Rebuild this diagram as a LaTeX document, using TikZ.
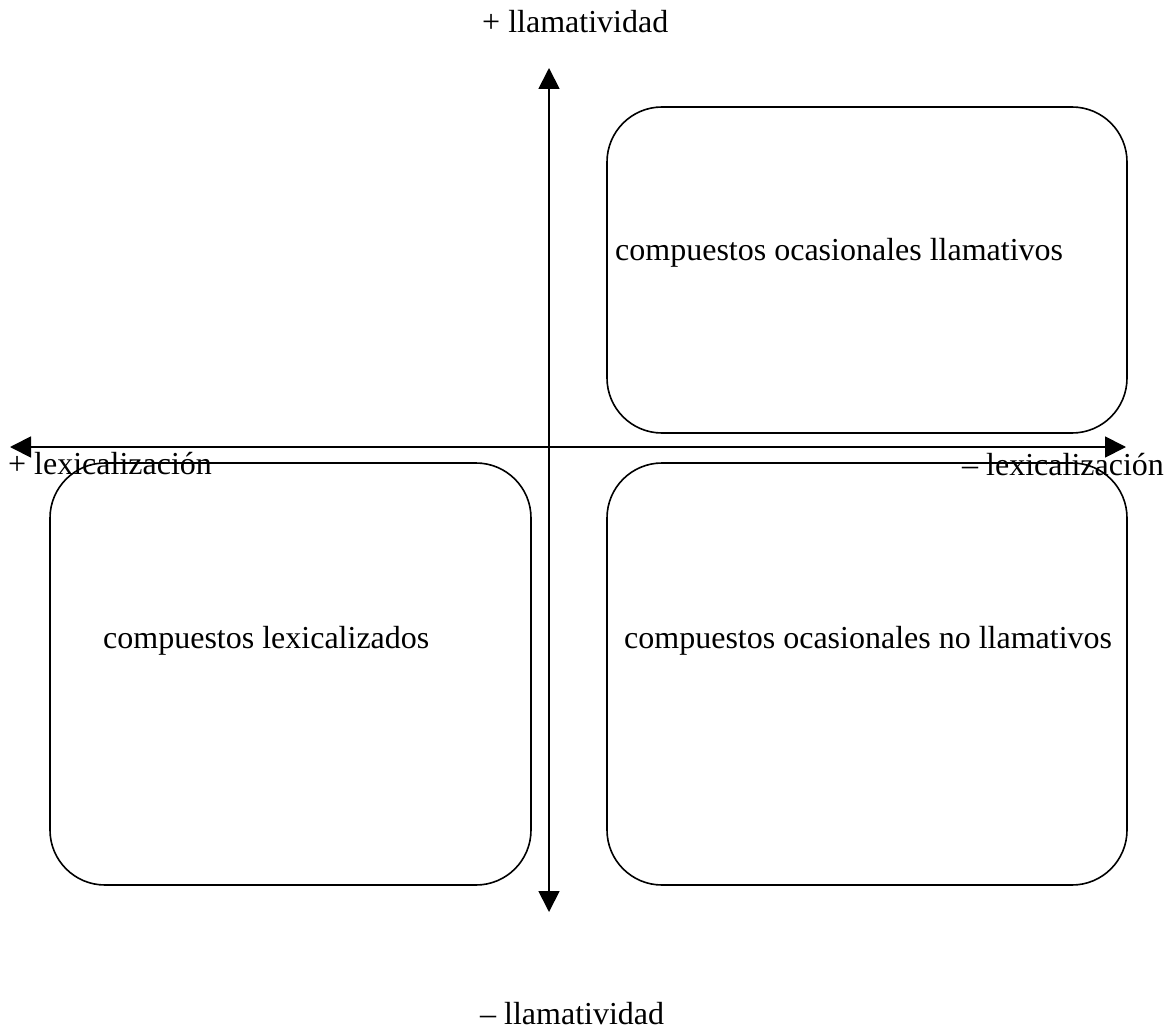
\documentclass[tikz,border=0pt]{standalone}
\usepackage{fontspec}
\setmainfont{Liberation Serif}
\usetikzlibrary{arrows.meta}
\begin{document}
\begin{tikzpicture}[x=1pt,y=-1pt,
  lbl/.style={inner sep=0pt, anchor=base west, font=\fontsize{32}{38}\selectfont},
  quad/.style={draw, line width=1.6pt, rounded corners=55pt, inner sep=0pt},
  axis/.style={line width=1.8pt, {Triangle[width=21pt,length=21pt]}-{Triangle[width=21pt,length=21pt]}}]
  \useasboundingbox (0,0) rectangle (1174,1032);
  % axis end points
  \coordinate (top) at (549,68);
  \coordinate (bottom) at (549,912);
  \coordinate (left) at (10,447);
  \coordinate (right) at (1126,447);
  % quadrant frames
  \node[quad, minimum width=520pt, minimum height=326pt] (tr) at (867,270) {};
  \node[quad, minimum width=481pt, minimum height=422pt] (bl) at (290.5,674) {};
  \node[quad, minimum width=520pt, minimum height=422pt] (br) at (867,674) {};
  % axes
  \draw[axis] (bottom) -- (top);
  \draw[axis] (left) -- (right);
  % axis labels
  \node[lbl] (ym) at (482,33) {+ llamatividad};
  \node[lbl] (yp) at (480,1024) {– llamatividad};
  \node[lbl] (xl) at (8,474) {+ lexicalización};
  \node[lbl] (xr) at (962,475) {– lexicalización};
  % quadrant labels
  \node[lbl] (t1) at (615,260) {compuestos ocasionales llamativos};
  \node[lbl] (t2) at (103,648) {compuestos lexicalizados};
  \node[lbl] (t3) at (624,648) {compuestos ocasionales no llamativos};
\end{tikzpicture}
\end{document}
